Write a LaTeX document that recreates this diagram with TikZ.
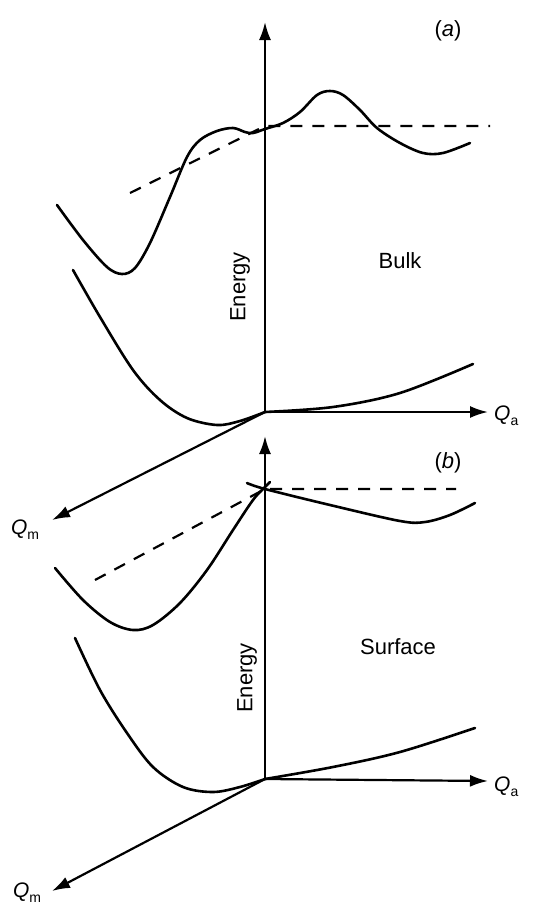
\documentclass[tikz,border=0pt]{standalone}
\usepackage{fontspec}
\setmainfont{Liberation Sans}
\usetikzlibrary{arrows.meta}
\begin{document}
\begin{tikzpicture}[x=1pt,y=-1pt,
  axisline/.style={line width=2.2pt,-{Latex[length=18pt,width=12pt]}},
  curve/.style={line width=2.6pt,line join=round,line cap=round},
  dashline/.style={line width=2.2pt,dash pattern=on 12pt off 10pt},
  lbl/.style={font=\fontsize{22}{24}\selectfont,inner sep=0pt},
  axlbl/.style={font=\fontsize{21}{23}\selectfont,inner sep=0pt}]
\useasboundingbox (0,0) rectangle (539,908);
% ---------- panel (a) ----------
\coordinate (Oa) at (265,412);
\coordinate (Ea) at (265,22);
\coordinate (QAa) at (488,412);
\coordinate (QMa) at (52,520);
\draw[axisline] (Oa) -- (Ea);
\draw[axisline] (Oa) -- (QAa);
\draw[axisline] (Oa) -- (QMa);
\node[axlbl,anchor=west] (qaa) at (494,416) {\textit{Q}\raisebox{-0.45ex}{\fontsize{14}{15}\selectfont a}};
\node[axlbl] (qma) at (25,530) {\textit{Q}\raisebox{-0.45ex}{\fontsize{14}{15}\selectfont m}};
\node[lbl] (la) at (448,31) {(\textit{a})};
\node[lbl,rotate=90] (ena) at (240,287) {Energy};
\node[lbl] (bulk) at (400,261) {Bulk};
% upper curve
\draw[curve] plot[smooth,tension=0.55] coordinates {
 (57,205) (83,240) (107,267) (122,274) (135,268) (150,243) (170,197)
 (187,157) (200,140) (217,131) (233,128) (245,132) (253,133) (265,129)
 (283,123) (300,112) (317,95) (330,91) (343,95) (360,110) (377,128)
 (400,143) (423,153) (443,153) (470,143)};
% dashed
\coordinate (Da1) at (130,193);
\coordinate (Da2) at (265,126);
\coordinate (Da3) at (490,126);
\draw[dashline] (Da1) -- (Da2) -- (Da3);
% lower curve
\draw[curve] plot[smooth,tension=0.55] coordinates {
 (73,270) (100,317) (133,370) (160,400) (187,418) (217,425) (240,421) (265,412)};
\draw[curve] plot[smooth,tension=0.55] coordinates {
 (265,412) (333,407) (400,393) (473,364)};
% ---------- panel (b) ----------
\coordinate (Ob) at (265,779);
\coordinate (Eb) at (265,436);
\coordinate (QAb) at (488,781);
\coordinate (QMb) at (52,891);
\draw[axisline] (Ob) -- (Eb);
\draw[axisline] (Ob) -- (QAb);
\draw[axisline] (Ob) -- (QMb);
\node[axlbl,anchor=west] (qab) at (494,787) {\textit{Q}\raisebox{-0.45ex}{\fontsize{14}{15}\selectfont a}};
\node[axlbl] (qmb) at (27,893) {\textit{Q}\raisebox{-0.45ex}{\fontsize{14}{15}\selectfont m}};
\node[lbl] (lb) at (448,463) {(\textit{b})};
\node[lbl,rotate=90] (enb) at (247,678) {Energy};
\node[lbl] (surf) at (398,647) {Surface};
% crossing point
\coordinate (X) at (265,489);
\coordinate (Db1) at (95,580);
\coordinate (Db2) at (456,489);
\draw[dashline] (Db1) -- (X) -- (Db2);
% upper left curve
\draw[curve] plot[smooth,tension=0.55] coordinates {
 (55,568) (83,600) (110,622) (133,630) (153,625) (180,603) (207,570)
 (233,530) (253,500) (265,487) (270,482)};
% upper right curve
\draw[curve] plot[smooth,tension=0.55] coordinates {
 (247,483) (265,489) (330,505) (400,521) (425,522) (450,515) (475,503)};
% lower curve
\draw[curve] plot[smooth,tension=0.55] coordinates {
 (75,638) (100,690) (127,733) (153,767) (183,787) (213,792) (240,787) (265,779)};
\draw[curve] plot[smooth,tension=0.55] coordinates {
 (265,779) (333,767) (400,752) (475,728)};
\end{tikzpicture}
\end{document}
